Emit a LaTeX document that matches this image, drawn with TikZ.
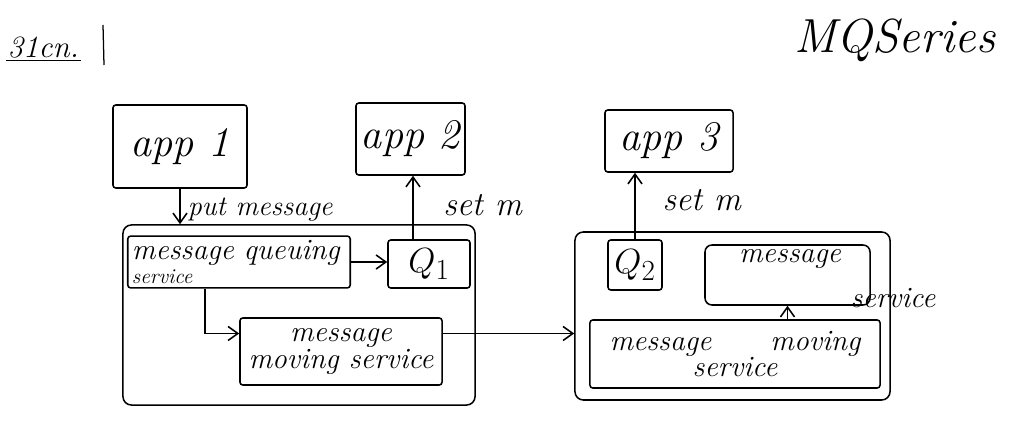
\documentclass[tikz,border=0pt]{standalone}
\usetikzlibrary{arrows.meta,calc}
\begin{document}
\begin{tikzpicture}[x=0.025cm,y=-0.025cm,
  box/.style={draw, line width=1.1pt, rounded corners=2pt, inner sep=0pt},
  arr/.style={draw, line width=1.1pt, -{Straight Barb[length=7pt,width=10pt]}},
  apptxt/.style={font=\fontsize{30}{34}\selectfont\itshape},
  msgtxt/.style={font=\fontsize{21}{23}\selectfont\itshape},
  lbl/.style={font=\fontsize{20}{22}\selectfont\itshape, inner sep=1pt},
  setlbl/.style={font=\fontsize{24}{26}\selectfont\itshape, inner sep=1pt}]
\useasboundingbox[fill=white] (0,0) rectangle (1024,438);
% header
\node[font=\fontsize{22}{24}\selectfont\itshape, inner sep=1pt, anchor=west] (hdr) at (6,48) {31cn.};
\draw[line width=0.9pt] (hdr.south west) -- (hdr.south east);
\draw[line width=0.9pt] (103,25) -- (104,65);
\node[font=\fontsize{34}{38}\selectfont\itshape] (mq) at (895,40) {MQSeries};
% apps
\node[box, minimum width=3.35cm, minimum height=2.075cm, apptxt] (app1) at (180,146.5) {app 1};
\node[box, minimum width=2.725cm, minimum height=1.8cm, apptxt] (app2) at (410.5,139) {app 2};
\node[box, minimum width=3.2cm, minimum height=1.55cm, apptxt] (app3) at (669,141) {app 3};
% left system
\node[box, rounded corners=6pt, minimum width=8.8cm, minimum height=4.5cm] (bigL) at (299,315) {};
\node[box, minimum width=5.55cm, minimum height=1.15cm, msgtxt, align=left, text width=5.35cm, inner sep=3pt] (mqs) at (239,262) {message queuing\\[-6pt]{\fontsize{15}{16}\selectfont service}};
\node[box, minimum width=2.05cm, minimum height=1.2cm, apptxt] (Q1) at (429,264) {$Q_1$};
\node[box, minimum width=5.05cm, minimum height=1.675cm, msgtxt, align=center] (mmsL) at (341,351.5) {message\\[-4pt]moving service};
% right system
\node[box, rounded corners=6pt, minimum width=7.875cm, minimum height=4.2cm] (bigR) at (732.5,316) {};
\node[box, minimum width=1.35cm, minimum height=1.25cm, apptxt] (Q2) at (635,265) {$Q_2$};
\node[box, rounded corners=5pt, minimum width=4.125cm, minimum height=1.5cm] (msvc) at (787.5,275) {};
\node[msgtxt, anchor=north] (msvct) at (790,245) {message};
\node[msgtxt] (msvcs) at (893,298) {service};
\node[box, minimum width=7.25cm, minimum height=1.7cm, msgtxt, align=center] (mmsR) at (735,354) {message\qquad moving\\[-4pt]service};
% connectors
\draw[arr] (app1.south) -- (app1.south |- bigL.north) node[lbl, midway, right, xshift=4pt, yshift=-2pt] {put message};
\draw[arr] ([xshift=-0.4cm]Q1.north) -- ([xshift=-0.4cm]Q1.north |- app2.south) node[setlbl, midway, right, xshift=20pt, yshift=2pt] {set m};
\draw[arr] (mqs.east) -- (mqs.east -| Q1.west);
\draw[arr] ([xshift=-0.85cm]mqs.south) |- ([yshift=0.45cm]mmsL.west);
\draw[arr] ([yshift=0.45cm]mmsL.east) -- ([yshift=0.45cm]mmsL.east -| bigR.west);
\draw[arr] (Q2.north) -- (Q2.north |- app3.south) node[setlbl, midway, right, xshift=18pt, yshift=4pt] {set m};
\draw[arr] (mmsR.north -| msvc.south) -- (msvc.south);
\end{tikzpicture}
\end{document}
